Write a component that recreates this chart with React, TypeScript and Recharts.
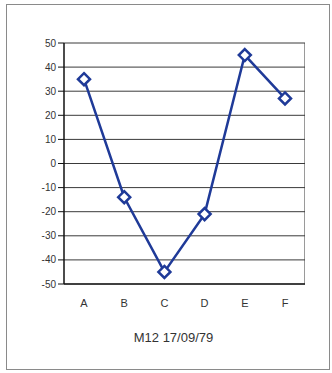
import { LineChart, Line, XAxis, YAxis, CartesianGrid, Label } from "recharts"

const categories = ["A", "B", "C", "D", "E", "F"]
const values = [35, -14, -45, -21, 45, 27]
const yTicks = [-50, -40, -30, -20, -10, 0, 10, 20, 30, 40, 50]
const title = "M12 17/09/79"

const data = categories.map((name, i) => ({ name, value: values[i] }))

const BLUE = "#1f3a98"

// plot box: left = margin.left + y axis width, etc.
const M = { top: 43, right: 27, left: 24, bottom: 31 }
const Y_AXIS_W = 40
const X_AXIS_H = 58
const W = 332
const H = 373

// hollow diamond marker like the old spreadsheet charts
function Diamond(props: any) {
  const { cx, cy, index } = props
  if (cx == null || cy == null) return null
  const r = 6
  return (
    <polygon
      key={index}
      points={`${cx},${cy - r} ${cx + r},${cy} ${cx},${cy + r} ${cx - r},${cy}`}
      fill="#fff"
      stroke={BLUE}
      strokeWidth={2.5}
    />
  )
}

export default function App() {
  const plotLeft = M.left + Y_AXIS_W
  const plotTop = M.top
  const plotW = W - plotLeft - M.right
  const plotH = H - M.top - M.bottom - X_AXIS_H
  return (
    <div
      style={{
        position: "absolute",
        left: 0,
        top: 0,
        width: W,
        height: H,
        background: "#fff",
        fontFamily: "'Liberation Sans', Arial, sans-serif",
      }}
    >
      <div
        style={{
          position: "absolute",
          left: 6,
          top: 4,
          width: 322,
          height: 364,
          border: "1px solid #8a8a8a",
        }}
      />
      {/* grey frame around the plot area */}
      <div
        style={{
          position: "absolute",
          left: plotLeft,
          top: plotTop,
          width: plotW - 1,
          height: plotH,
          borderRight: "1px solid #9a9a9a",
        }}
      />
      <LineChart
        width={W}
        height={H}
        data={data}
        margin={M}
        style={{ position: "absolute", left: 0, top: 0 }}
      >
        <CartesianGrid vertical={false} stroke="#3a3a3a" strokeWidth={1} />
        <XAxis
          dataKey="name"
          height={X_AXIS_H}
          padding={{ left: 20, right: 20 }}
          axisLine={{ stroke: "#222", strokeWidth: 1.5 }}
          tickLine={false}
          tickMargin={9}
          tick={{ fontSize: 11, fill: "#333" }}
        >
          <Label
            value={title}
            position="insideBottom"
            offset={0}
            dx={-11}
            style={{ fontSize: 13, fill: "#333" }}
          />
        </XAxis>
        <YAxis
          width={Y_AXIS_W}
          domain={[-50, 50]}
          ticks={yTicks}
          interval={0}
          axisLine={{ stroke: "#111", strokeWidth: 1.5 }}
          tickLine={{ stroke: "#111" }}
          tickSize={6}
          tickMargin={2}
          tick={{ fontSize: 10, fill: "#333" }}
        />
        <Line
          type="linear"
          dataKey="value"
          stroke={BLUE}
          strokeWidth={2.5}
          dot={<Diamond />}
          isAnimationActive={false}
        />
      </LineChart>
    </div>
  )
}
